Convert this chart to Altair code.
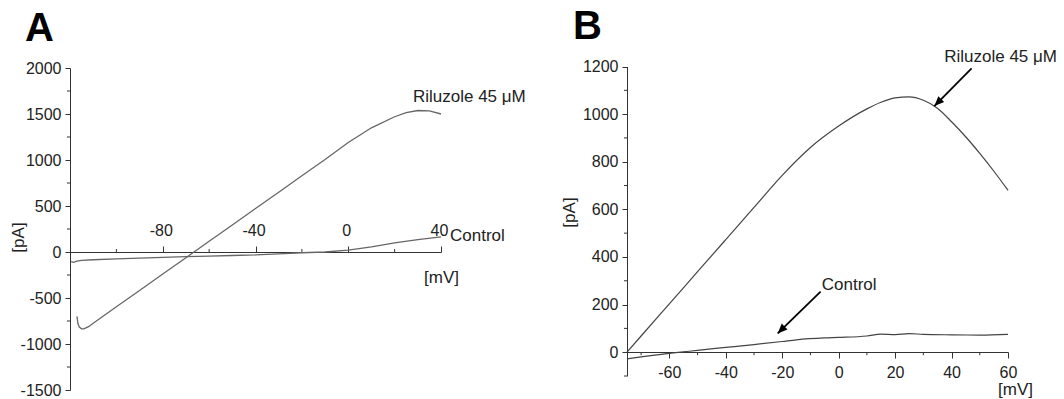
import altair as alt
import pandas as pd

FONT = "Liberation Sans"

# ---------------- Panel A data ----------------
a_ril_mv = [-117.0, -116.6, -116.0, -115.0, -114.0, -112.0, -110, -100, -90, -80, -70, -60, -50, -40, -30, -20, -10, 0, 10, 20, 25, 30, 35, 40]
a_ril_pa = [-700, -775, -815, -835, -836, -812, -774, -596, -418, -240, -62, 116, 294, 472, 650, 828, 1006, 1190, 1350, 1470, 1515, 1538, 1535, 1500]

a_ctl_mv = [-119.5, -118.5, -117, -115, -110, -100, -90, -80, -70, -60, -50, -40, -30, -20, -10, 0, 10, 20, 30, 40]
a_ctl_pa = [-105, -112, -100, -90, -84, -74, -66, -58, -51, -45, -38, -32, -20, -8, 0, 20, 55, 100, 135, 165]

# ---------------- Panel B data ----------------
b_ril_mv = [-75, -70, -60, -50, -40, -30, -20, -10, 0, 10, 15, 20, 25, 30, 35, 40, 45, 50, 55, 60]
b_ril_pa = [0, 68, 203, 338, 473, 608, 743, 860, 950, 1022, 1050, 1068, 1072, 1058, 1025, 968, 905, 835, 760, 680]

b_ctl_mv = [-75, -70, -60, -56, -50, -40, -30, -20, -15, -5, 0, 10, 15, 20, 25, 30, 40, 50, 60]
b_ctl_pa = [-28, -20, -5, 0, 8, 20, 32, 45, 52, 60, 62, 68, 76, 74, 78, 75, 73, 72, 75]

# axis tick values
a_x_major = [-80, -40, 0, 40]
a_x_minor = [-100, -60, -20, 20]
a_y_major = [-1500, -1000, -500, 0, 500, 1000, 1500, 2000]
a_y_minor = [-1250, -750, -250, 250, 750, 1250, 1750]
b_x_major = [-60, -40, -20, 0, 20, 40, 60]
b_x_minor = [-70, -50, -30, -10, 10, 30, 50]
b_y_major = [0, 200, 400, 600, 800, 1000, 1200]
b_y_minor = [-100, 100, 300, 500, 700, 900, 1100]

# annotations (data coordinates)
a_texts = ["Riluzole 45 \u03bcM", "Control"]
a_text_mv = [27.9, 43.9]
a_text_pa = [1634, 125]
b_texts = ["Riluzole 45 \u03bcM", "Control"]
b_text_mv = [37.4, -6.0]
b_text_pa = [1220, 261]
b_arrow_tail_mv = [47.1, -6.4]
b_arrow_tail_pa = [1192, 254]
b_arrow_tip_mv = [33.9, -21.6]
b_arrow_tip_pa = [1034, 79]
panel_letters = ["A", "B"]
a_letter_pos = (-139.4, 2293)
b_letter_pos = (-94.1, 1315)

# ---------------- scales ----------------
def ax_scale():
    return alt.Scale(domain=[-120, 40], range=[70, 441], zero=False, nice=False)

def ay_scale():
    return alt.Scale(domain=[-1500, 2000], range=[390, 68], zero=False, nice=False)

def bx_scale():
    return alt.Scale(domain=[-75, 60], range=[627, 1008], zero=False, nice=False)

def by_scale():
    return alt.Scale(domain=[-100, 1200], range=[376, 66.5], zero=False, nice=False)

common_axis = dict(
    grid=False, labelFont=FONT, titleFont=FONT, labelFontSize=16, titleFontSize=17,
    titleFontWeight="normal", labelColor="#222", titleColor="#222",
    domainColor="#333", tickColor="#333", labelFlush=False, labelOverlap=False,
    labelExpr="toString(datum.value)",
)

layers = []

# ---------------- Panel A ----------------
dfA = pd.DataFrame(
    {"mv": a_ril_mv + a_ctl_mv,
     "pa": a_ril_pa + a_ctl_pa,
     "series": ["Riluzole"] * len(a_ril_mv) + ["Control"] * len(a_ctl_mv),
     "order": list(range(len(a_ril_mv))) + list(range(len(a_ctl_mv)))}
)
layers.append(alt.Chart(dfA).mark_line(color="#666", strokeWidth=1.3).encode(
    x=alt.X("mv:Q", scale=ax_scale(), axis=alt.Axis(
        orient="top", offset=-252, values=a_x_major, tickSize=6, labelPadding=8,
        labelOffset=-2,
        title="[mV]", titleX=441, titleY=30, titleAlign="center",
        titleBaseline="alphabetic", titleAngle=0, **common_axis)),
    y=alt.Y("pa:Q", scale=ay_scale(), axis=alt.Axis(
        orient="left", offset=-70, values=a_y_major, tickSize=5, labelPadding=4,
        title="[pA]", titleX=-52, titleY=237, titleAngle=270, titleAlign="center",
        titleBaseline="middle", **common_axis)),
    detail="series:N",
    order="order:Q",
))

dfA_xmin = pd.DataFrame({"v": a_x_minor, "z": [0] * len(a_x_minor)})
layers.append(alt.Chart(dfA_xmin).mark_rule(color="#333", strokeWidth=1, y2Offset=-3).encode(
    x=alt.X("v:Q", scale=ax_scale(), axis=None),
    y=alt.Y("z:Q", scale=ay_scale(), axis=None),
    y2="z:Q",
))
dfA_ymin = pd.DataFrame({"v": a_y_minor, "z": [-120] * len(a_y_minor)})
layers.append(alt.Chart(dfA_ymin).mark_rule(color="#333", strokeWidth=1, x2Offset=-3).encode(
    y=alt.Y("v:Q", scale=ay_scale(), axis=None),
    x=alt.X("z:Q", scale=ax_scale(), axis=None),
    x2="z:Q",
))
dfA_txt = pd.DataFrame({"t": a_texts, "mv": a_text_mv, "pa": a_text_pa})
layers.append(alt.Chart(dfA_txt).mark_text(
    align="left", baseline="alphabetic", font=FONT, fontSize=17, color="#222"
).encode(
    x=alt.X("mv:Q", scale=ax_scale(), axis=None),
    y=alt.Y("pa:Q", scale=ay_scale(), axis=None),
    text="t:N",
))
dfA_let = pd.DataFrame({"t": [panel_letters[0]], "mv": [a_letter_pos[0]], "pa": [a_letter_pos[1]]})
layers.append(alt.Chart(dfA_let).mark_text(
    align="left", baseline="alphabetic", font=FONT, fontSize=40, fontWeight="bold", color="#000"
).encode(
    x=alt.X("mv:Q", scale=ax_scale(), axis=None),
    y=alt.Y("pa:Q", scale=ay_scale(), axis=None),
    text="t:N",
))

# ---------------- Panel B ----------------
dfB = pd.DataFrame(
    {"mv": b_ril_mv + b_ctl_mv,
     "pa": b_ril_pa + b_ctl_pa,
     "series": ["Riluzole"] * len(b_ril_mv) + ["Control"] * len(b_ctl_mv),
     "order": list(range(len(b_ril_mv))) + list(range(len(b_ctl_mv)))}
)
layers.append(alt.Chart(dfB).mark_line(color="#444", strokeWidth=1.2, interpolate="monotone").encode(
    x=alt.X("mv:Q", scale=bx_scale(), axis=alt.Axis(
        orient="bottom", offset=-47, values=b_x_major, tickSize=6, labelPadding=6,
        title="[mV]", titleX=1015, titleY=42, titleAlign="center",
        titleBaseline="alphabetic", titleAngle=0, **common_axis)),
    y=alt.Y("pa:Q", scale=by_scale(), axis=alt.Axis(
        orient="left", offset=-627, values=b_y_major, tickSize=5, labelPadding=4,
        title="[pA]", titleX=-58, titleY=212, titleAngle=270, titleAlign="center",
        titleBaseline="middle", **common_axis)),
    detail="series:N",
    order="order:Q",
))
dfB_xmin = pd.DataFrame({"v": b_x_minor, "z": [0] * len(b_x_minor)})
layers.append(alt.Chart(dfB_xmin).mark_rule(color="#333", strokeWidth=1, y2Offset=3).encode(
    x=alt.X("v:Q", scale=bx_scale(), axis=None),
    y=alt.Y("z:Q", scale=by_scale(), axis=None),
    y2="z:Q",
))
dfB_ymin = pd.DataFrame({"v": b_y_minor, "z": [-75] * len(b_y_minor)})
layers.append(alt.Chart(dfB_ymin).mark_rule(color="#333", strokeWidth=1, x2Offset=-3).encode(
    y=alt.Y("v:Q", scale=by_scale(), axis=None),
    x=alt.X("z:Q", scale=bx_scale(), axis=None),
    x2="z:Q",
))
dfB_txt = pd.DataFrame({"t": b_texts, "mv": b_text_mv, "pa": b_text_pa})
layers.append(alt.Chart(dfB_txt).mark_text(
    align="left", baseline="alphabetic", font=FONT, fontSize=17, color="#222"
).encode(
    x=alt.X("mv:Q", scale=bx_scale(), axis=None),
    y=alt.Y("pa:Q", scale=by_scale(), axis=None),
    text="t:N",
))
dfB_arr = pd.DataFrame({"x1": b_arrow_tail_mv, "y1": b_arrow_tail_pa,
                        "x2": b_arrow_tip_mv, "y2": b_arrow_tip_pa})
layers.append(alt.Chart(dfB_arr).mark_rule(color="#000", strokeWidth=1.8).encode(
    x=alt.X("x1:Q", scale=bx_scale(), axis=None),
    y=alt.Y("y1:Q", scale=by_scale(), axis=None),
    x2="x2:Q",
    y2="y2:Q",
))
layers.append(alt.Chart(dfB_arr).mark_point(
    shape="M0,0L-0.42,1L0.42,1Z", filled=True, color="#000", opacity=1, size=380, angle=225
).encode(
    x=alt.X("x2:Q", scale=bx_scale(), axis=None),
    y=alt.Y("y2:Q", scale=by_scale(), axis=None),
))
dfB_let = pd.DataFrame({"t": [panel_letters[1]], "mv": [b_letter_pos[0]], "pa": [b_letter_pos[1]]})
layers.append(alt.Chart(dfB_let).mark_text(
    align="left", baseline="alphabetic", font=FONT, fontSize=40, fontWeight="bold", color="#000"
).encode(
    x=alt.X("mv:Q", scale=bx_scale(), axis=None),
    y=alt.Y("pa:Q", scale=by_scale(), axis=None),
    text="t:N",
))

chart = (
    alt.layer(*layers)
    .resolve_scale(x="independent", y="independent")
    .resolve_axis(x="independent", y="independent")
    .properties(width=1064, height=399, autosize=alt.AutoSizeParams(type="none"), padding=0,
                background="white")
    .configure_view(stroke=None)
)

chart.save("out.html", embed_options={"renderer": "svg", "actions": False})
